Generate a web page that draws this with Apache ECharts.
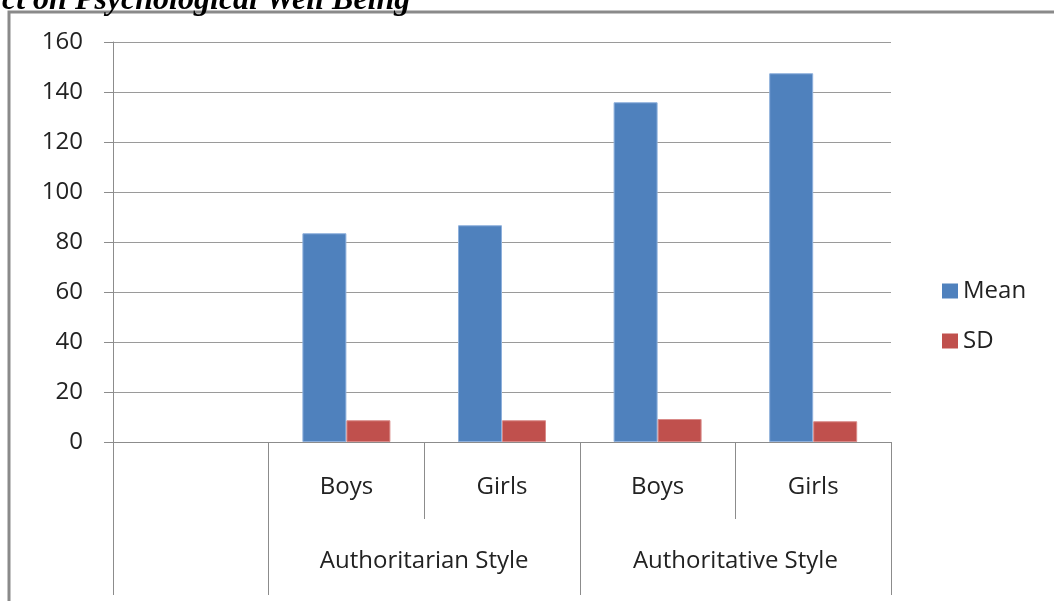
<!DOCTYPE html>
<html>
<head>
<meta charset="utf-8">
<script src="https://cdn.jsdelivr.net/npm/echarts@6/dist/echarts.min.js"></script>
<style>
  html, body { margin: 0; padding: 0; background: #fff; }
  #chart { width: 1054px; height: 601px; }
</style>
</head>
<body>
<div id="chart"></div>
<script>
// categories (first slot is the empty group on the left)
const subLabels = ['', 'Boys', 'Girls', 'Boys', 'Girls'];
// group labels on an 11-point helper axis, boundaries at 0, 2, 6, 10
const groupLabels = ['', '', '', '', 'Authoritarian Style', '', '', '', 'Authoritative Style', '', ''];
const groupEdges = [0, 2, 6, 10];

const meanValues = ['-', 83.5, 86.7, 135.9, 147.5];
const sdValues = ['-', 8.7, 8.7, 9.2, 8.3];

const yTicks = { min: 0, max: 160, interval: 20 };

const labelFont = 'Open Sans';

const myChart = echarts.init(document.getElementById('chart'), null, { renderer: 'canvas' });

const option = {
  backgroundColor: '#fff',
  animation: false,
  title: {
    text: 'ct on Psychological Well Being',
    left: -3,
    top: -20,
    textStyle: {
      fontFamily: 'Liberation Serif',
      fontStyle: 'italic',
      fontWeight: 'bold',
      fontSize: 32,
      lineHeight: 32,
      color: '#000'
    }
  },
  graphic: [
    {
      type: 'rect',
      shape: { x: 9, y: 12, width: 1200, height: 800 },
      style: { fill: 'none', stroke: '#8a8a8a', lineWidth: 3 },
      z: -1
    }
  ],
  legend: {
    orient: 'vertical',
    left: 937,
    top: 274,
    itemWidth: 16,
    itemHeight: 15,
    itemGap: 26,
    icon: 'rect',
    itemStyle: { borderWidth: 0 },
    textStyle: {
      fontFamily: labelFont,
      fontSize: 24,
      lineHeight: 24,
      color: '#222'
    },
    data: ['Mean', 'SD']
  },
  grid: {
    left: 113,
    right: 163,
    top: 42,
    bottom: 159,
    containLabel: false
  },
  xAxis: [
    {
      type: 'category',
      position: 'bottom',
      data: subLabels,
      axisLine: { lineStyle: { color: '#8c8c8c', width: 1 } },
      axisTick: { show: true, interval: 0, alignWithLabel: false, length: 77, lineStyle: { color: '#8c8c8c' } },
      axisLabel: {
        interval: 0,
        margin: 33,
        fontFamily: labelFont,
        fontSize: 24,
        color: '#222'
      },
      splitLine: { show: false }
    },
    {
      type: 'category',
      position: 'bottom',
      boundaryGap: false,
      data: groupLabels,
      axisLine: { show: false },
      axisTick: {
        show: true,
        length: 153,
        interval: (idx) => groupEdges.includes(idx),
        lineStyle: { color: '#8c8c8c' }
      },
      axisLabel: {
        interval: 0,
        margin: 107,
        fontFamily: labelFont,
        fontSize: 24,
        color: '#222'
      },
      splitLine: { show: false }
    }
  ],
  yAxis: {
    type: 'value',
    min: yTicks.min,
    max: yTicks.max,
    interval: yTicks.interval,
    axisLine: { show: true, lineStyle: { color: '#8c8c8c' } },
    axisTick: { show: true, length: 9, lineStyle: { color: '#8c8c8c' } },
    axisLabel: {
      margin: 30,
      fontFamily: labelFont,
      fontSize: 24,
      color: '#222'
    },
    splitLine: { lineStyle: { color: '#9a9a9a', width: 1 } }
  },
  series: [
    {
      name: 'Mean',
      type: 'bar',
      xAxisIndex: 0,
      data: meanValues,
      barWidth: 44,
      barGap: '0%',
      itemStyle: { color: '#4F81BD', borderColor: '#8eb0dc', borderWidth: 1 }
    },
    {
      name: 'SD',
      type: 'bar',
      xAxisIndex: 0,
      data: sdValues,
      barWidth: 44,
      barGap: '0%',
      itemStyle: { color: '#C0504D', borderColor: '#d98a88', borderWidth: 1 }
    }
  ]
};

myChart.setOption(option);
</script>
</body>
</html>
